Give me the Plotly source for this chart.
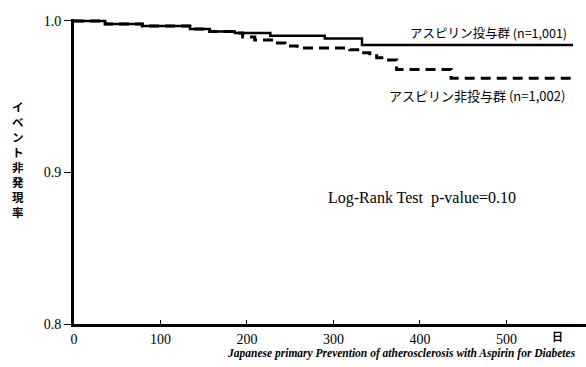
import plotly.graph_objects as go

# Kaplan-Meier style event-free rates
aspirin_days = [0, 36, 79, 134, 157, 186, 227, 290, 333, 577]
aspirin_surv = [1.0, 0.998, 0.9967, 0.9947, 0.993, 0.992, 0.9903, 0.9885, 0.9842, 0.9842]

nonaspirin_days = [0, 36, 79, 134, 157, 186, 195, 209, 232, 244, 258, 319, 331, 342, 350, 361, 373, 436, 577]
nonaspirin_surv = [1.0, 0.998, 0.9967, 0.9947, 0.993, 0.992, 0.9894, 0.9875, 0.9855, 0.9835, 0.9822,
                   0.981, 0.979, 0.977, 0.9758, 0.9743, 0.968, 0.9622, 0.9622]

x_ticks = [0, 100, 200, 300, 400, 500]
y_ticks = [0.8, 0.9, 1.0]
y_tick_labels = ["0.8", "0.9", "1.0"]

label_aspirin = "アスピリン投与群 (n=1,001)"
label_nonaspirin = "アスピリン非投与群 (n=1,002)"
stat_text = "Log-Rank Test  p-value=0.10"
y_title = "イベント非発現率"
x_unit = "日"
caption = "Japanese primary Prevention of atherosclerosis with Aspirin for Diabetes"

fig = go.Figure()
fig.add_trace(go.Scatter(x=aspirin_days, y=aspirin_surv, mode="lines", line_shape="hv",
                         line=dict(color="black", width=2.5), showlegend=False))
fig.add_trace(go.Scatter(x=nonaspirin_days, y=nonaspirin_surv, mode="lines", line_shape="hv",
                         line=dict(color="black", width=3, dash="10px,6px"), showlegend=False))

serif = "Liberation Serif"
cjk = "Noto Sans CJK JP"

fig.update_layout(
    width=586, height=367,
    margin=dict(l=74, r=0, t=19, b=43),
    paper_bgcolor="white", plot_bgcolor="white",
    xaxis=dict(range=[0, 592], tickvals=x_ticks, ticks="inside", ticklen=4, tickwidth=1,
               tickcolor="black", showline=True, linewidth=3, linecolor="black",
               showgrid=False, zeroline=False,
               tickfont=dict(family=serif, size=14, color="black")),
    yaxis=dict(range=[0.8, 1.0013], tickvals=y_ticks, ticktext=y_tick_labels, ticks="outside",
               ticklen=7, tickwidth=1, tickcolor="black", showline=True, linewidth=3,
               linecolor="black", showgrid=False, zeroline=False,
               tickfont=dict(family=serif, size=14, color="black")),
    annotations=[
        dict(x=479, y=0.9921, xref="x", yref="y", xanchor="center", yanchor="middle",
             text=label_aspirin, showarrow=False,
             font=dict(family=cjk, size=12.5, color="black")),
        dict(x=466, y=0.9505, xref="x", yref="y", xanchor="center", yanchor="middle",
             text=label_nonaspirin, showarrow=False,
             font=dict(family=cjk, size=13, color="black")),
        dict(x=402, y=0.8832, xref="x", yref="y", xanchor="center", yanchor="middle",
             text=stat_text, showarrow=False,
             font=dict(family=serif, size=16, color="black")),
        dict(x=559, y=0, xref="x", yref="paper", xanchor="center", yanchor="top", yshift=-2,
             text="<b>" + x_unit + "</b>", showarrow=False,
             font=dict(family=cjk, size=11, color="black")),
        dict(x=0.64, y=-0.097, xref="paper", yref="paper", xanchor="center", yanchor="middle",
             text="<b><i>" + caption + "</i></b>",
             showarrow=False, font=dict(family=serif, size=11.5, color="black")),
        dict(x=-0.109, y=0.538, xref="paper", yref="paper", xanchor="center", yanchor="middle",
             text="<b>" + "<br>".join(list(y_title)) + "</b>", showarrow=False,
             font=dict(family=cjk, size=11.5, color="black")),
    ],
)

fig.write_html("out.html", config={"displayModeBar": False},
               post_script="document.body.style.margin='0';")
